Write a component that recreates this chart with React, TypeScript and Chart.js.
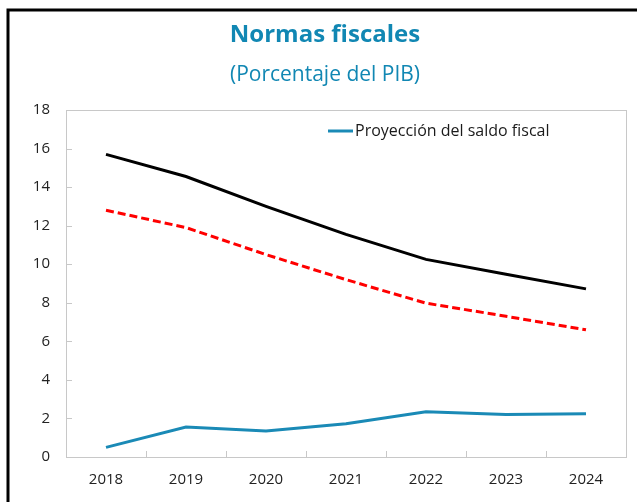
import React, { useEffect, useRef } from "react";
import { Chart, registerables } from "chart.js";

Chart.register(...registerables);

const years = ["2018", "2019", "2020", "2021", "2022", "2023", "2024"];
const saldoFiscal = [0.5, 1.55, 1.35, 1.72, 2.35, 2.2, 2.24];
const reglaNegra = [15.7, 14.55, 13.0, 11.55, 10.25, 9.48, 8.72];
const reglaRoja = [12.8, 11.9, 10.5, 9.2, 7.98, 7.3, 6.6];
const yTicks = [0, 2, 4, 6, 8, 10, 12, 14, 16, 18];

const titleText = "Normas fiscales";
const subtitleText = "(Porcentaje del PIB)";
const legendText = "Proyección del saldo fiscal";

const FONT = "'Open Sans', 'Noto Sans', sans-serif";
const BLUE = "#1a8ab6";
const TITLE_BLUE = "#1187b3";

const decorPlugin = {
  id: "decor",
  beforeDraw(chart: any) {
    const { ctx, width, height } = chart;
    ctx.save();
    ctx.fillStyle = "#ffffff";
    ctx.fillRect(0, 0, width, height);
    // outer frame (top + left)
    ctx.strokeStyle = "#000000";
    ctx.lineWidth = 3;
    ctx.beginPath();
    ctx.moveTo(8, height + 5);
    ctx.lineTo(8, 10);
    ctx.lineTo(width + 5, 10);
    ctx.stroke();
    // titles
    ctx.textAlign = "center";
    ctx.textBaseline = "middle";
    ctx.fillStyle = TITLE_BLUE;
    ctx.font = `bold 24px ${FONT}`;
    ctx.fillText(titleText, 325, 35);
    ctx.font = `21px ${FONT}`;
    ctx.fillText(subtitleText, 325, 75);
    ctx.restore();
  },
  beforeDatasetsDraw(chart: any) {
    const { ctx, chartArea, scales } = chart;
    const { left, right, top, bottom } = chartArea;
    ctx.save();
    ctx.strokeStyle = "#c8c8c8";
    ctx.lineWidth = 1;
    ctx.strokeRect(Math.round(left) + 0.5, Math.round(top) + 0.5, Math.round(right - left), Math.round(bottom - top));
    ctx.beginPath();
    const y = scales.y;
    y.ticks.forEach((t: any) => {
      const py = Math.round(y.getPixelForValue(t.value)) + 0.5;
      ctx.moveTo(left, py);
      ctx.lineTo(left + 6, py);
    });
    const x = scales.x;
    for (let i = 1; i < years.length; i++) {
      const px = Math.round((x.getPixelForTick(i - 1) + x.getPixelForTick(i)) / 2) + 0.5;
      ctx.moveTo(px, bottom);
      ctx.lineTo(px, bottom - 6);
    }
    ctx.stroke();
    ctx.restore();
  },
  afterDraw(chart: any) {
    const { ctx } = chart;
    const ds = chart.data.datasets[0];
    ctx.save();
    ctx.strokeStyle = ds.borderColor;
    ctx.lineWidth = 3;
    ctx.beginPath();
    ctx.moveTo(328, 131);
    ctx.lineTo(353, 131);
    ctx.stroke();
    ctx.fillStyle = "#1a1a1a";
    ctx.font = `16px ${FONT}`;
    ctx.textAlign = "left";
    ctx.textBaseline = "middle";
    ctx.fillText(ds.label, 355, 131);
    ctx.restore();
  },
};

export default function App() {
  const ref = useRef<HTMLCanvasElement | null>(null);
  useEffect(() => {
    if (!ref.current) return;
    const chart = new Chart(ref.current, {
      type: "line",
      data: {
        labels: years,
        datasets: [
          {
            label: legendText,
            data: saldoFiscal,
            borderColor: BLUE,
            borderWidth: 3,
            pointRadius: 0,
            tension: 0,
          },
          {
            label: "Regla A",
            data: reglaNegra,
            borderColor: "#000000",
            borderWidth: 3,
            pointRadius: 0,
            tension: 0,
          },
          {
            label: "Regla B",
            data: reglaRoja,
            borderColor: "#ff0000",
            borderWidth: 3,
            borderDash: [8, 4],
            pointRadius: 0,
            tension: 0,
          },
        ],
      },
      options: {
        animation: false,
        responsive: false,
        layout: { padding: { top: 110, right: 11, bottom: 0, left: 0 } },
        scales: {
          x: {
            type: "category",
            offset: true,
            grid: { display: false, drawTicks: false },
            border: { display: false },
            ticks: { color: "#222222", font: { family: FONT, size: 15 }, padding: 14, maxRotation: 0 },
            afterFit: (s: any) => {
              s.height = 45;
            },
          },
          y: {
            min: 0,
            max: 18,
            afterBuildTicks: (s: any) => {
              s.ticks = yTicks.map((v) => ({ value: v }));
            },
            grid: { display: false, drawTicks: false },
            border: { display: false },
            ticks: { color: "#222222", font: { family: FONT, size: 15 }, padding: 16 },
            afterFit: (s: any) => {
              s.width = 66;
            },
          },
        },
        plugins: {
          legend: { display: false },
          tooltip: { enabled: false },
        },
      },
      plugins: [decorPlugin],
    });
    return () => chart.destroy();
  }, []);
  return (
    <div style={{ position: "fixed", left: 0, top: 0, width: 637, height: 502 }}>
      <canvas ref={ref} width={637} height={502} />
    </div>
  );
}
